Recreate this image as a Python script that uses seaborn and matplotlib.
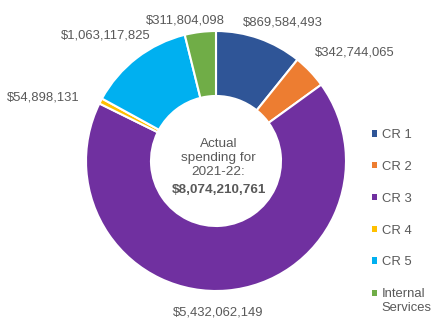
import matplotlib
matplotlib.use("Agg")
import matplotlib.pyplot as plt
import seaborn as sns
from matplotlib.patches import Patch, Rectangle
from matplotlib.legend_handler import HandlerPatch

categories = ["CR 1", "CR 2", "CR 3", "CR 4", "CR 5", "Internal\nServices"]
values = [869584493, 342744065, 5432062149, 54898131, 1063117825, 311804098]
center_lines = ["Actual", "spending for", "2021-22:"]
total = sum(values)

sns.set_theme(style="white")
plt.rcParams["font.family"] = ["Liberation Sans", "DejaVu Sans"]

colors = sns.color_palette(["#2F5597", "#ED7D31", "#7030A0", "#FFC000", "#00B0F0", "#70AD47"])
text_color = "#595959"
fs = 9.4

W, H = 444, 334
fig = plt.figure(figsize=(W / 100, H / 100), dpi=100)
ax = fig.add_axes([0, 0, 1, 1])

cx, cy, R = 216, 161, 130  # pixel centre and radius of the donut

wedges, _ = ax.pie(values, colors=colors, startangle=90, counterclock=False,
                   radius=1.0, wedgeprops=dict(width=0.5, edgecolor="white", linewidth=1.5))
ax.set_xlim(-cx / R, (W - cx) / R)
ax.set_ylim(-(H - cy) / R, cy / R)
ax.set_aspect("auto")
ax.axis("off")

# label placement (in radius units, relative to donut centre)
label_pos = [(0.515, 1.069), (1.069, 0.831), (0.015, -1.169),
             (-1.327, 0.492), (-0.85, 0.962), (-0.235, 1.077)]
for v, (lx, ly) in zip(values, label_pos):
    ax.text(lx, ly, f"${v:,.0f}", ha="center", va="center", fontsize=fs, color=text_color)

ax.text(0.02, 0.023, "\n".join(center_lines), ha="center", va="center",
        fontsize=fs + 0.3, color=text_color, linespacing=1.2)
ax.text(0.02, -0.22, f"${total:,.0f}", ha="center", va="center",
        fontsize=fs + 0.3, color=text_color, fontweight="bold")


def first_line_patch(legend, orig_handle, xdescent, ydescent, width, height, fontsize):
    # align the marker with the first line of a two-line label
    return Rectangle((-xdescent, -ydescent + 0.6 * fontsize), width, height)


handles = [Patch(facecolor=c, edgecolor="none") for c in colors]
handler_map = {handles[-1]: HandlerPatch(patch_func=first_line_patch)}
leg = fig.legend(handles, categories, loc="upper left",
                 bbox_to_anchor=(372 / W, 1 - 129 / H), frameon=False,
                 fontsize=fs, labelcolor=text_color, handlelength=0.38,
                 handleheight=0.38, handletextpad=0.35, labelspacing=1.52,
                 borderpad=0, borderaxespad=0, handler_map=handler_map)

fig.savefig("out.png", dpi=100, facecolor="white")
